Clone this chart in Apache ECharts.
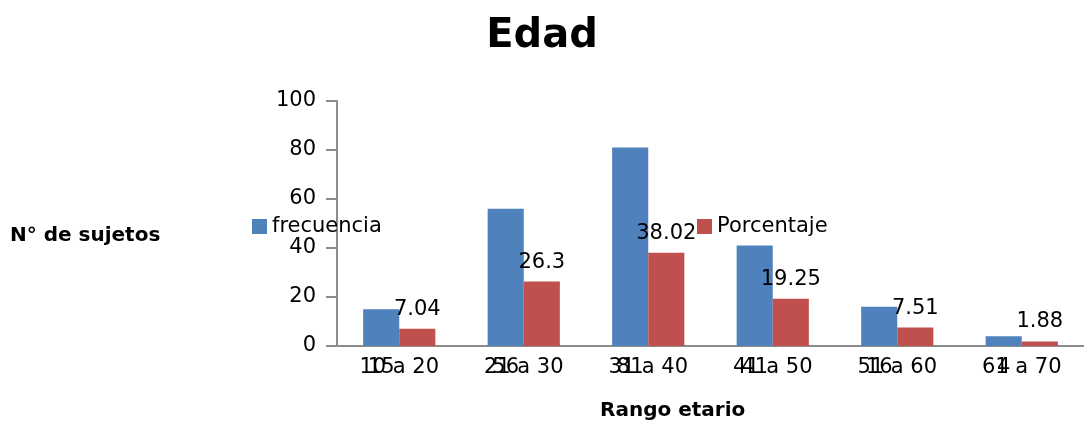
<!DOCTYPE html>
<html>
<head>
<meta charset="utf-8">
<script src="https://cdn.jsdelivr.net/npm/echarts@6/dist/echarts.min.js"></script>
<style>html,body{margin:0;padding:0;background:#fff}#c{width:1084px;height:430px}</style>
</head>
<body>
<div id="c"></div>
<script>
const categories = ["10 a 20", "21 a 30", "31 a 40", "41 a 50", "51 a 60", "61 a 70"];
const frecuencia = [15, 56, 81, 41, 16, 4];
const porcentaje = [7.04, 26.3, 38.02, 19.25, 7.51, 1.88];
const yTicks = [0, 20, 40, 60, 80, 100];

const FONT = "DejaVu Sans";
const chart = echarts.init(document.getElementById('c'), null, {renderer: 'canvas'});
chart.setOption({
  animation: false,
  title: {
    text: "Edad", left: 'center', top: 12,
    textStyle: {fontFamily: FONT, fontSize: 40, fontWeight: 'bold', color: '#000'}
  },
  legend: [
    {data: ["frecuencia"], icon: 'rect', left: 247, top: 211, itemWidth: 15, itemHeight: 15, itemGap: 6,
     textStyle: {fontFamily: FONT, fontSize: 21, color: '#000'}},
    {data: ["Porcentaje"], icon: 'rect', left: 692, top: 211, itemWidth: 15, itemHeight: 15, itemGap: 6,
     textStyle: {fontFamily: FONT, fontSize: 21, color: '#000'}}
  ],
  graphic: [
    {type: 'text', left: 10, top: 226, style: {text: "N° de sujetos", font: "bold 20px 'DejaVu Sans'", fill: '#000'}},
    {type: 'text', left: 600, top: 401, style: {text: "Rango etario", font: "bold 20px 'DejaVu Sans'", fill: '#000'}}
  ],
  grid: {left: 337, right: -13, top: 101, bottom: 84, containLabel: false},
  xAxis: {
    type: 'category', data: categories,
    axisLine: {lineStyle: {color: '#8c8c8c', width: 2}},
    axisTick: {show: false},
    axisLabel: {fontFamily: FONT, fontSize: 21, color: '#000', margin: 11}
  },
  yAxis: {
    type: 'value', min: yTicks[0], max: yTicks[yTicks.length - 1], interval: 20,
    splitLine: {show: false},
    axisLine: {show: true, lineStyle: {color: '#8c8c8c', width: 2}},
    axisTick: {show: true, length: 11, lineStyle: {color: '#8c8c8c', width: 2}},
    axisLabel: {fontFamily: FONT, fontSize: 21, color: '#000', margin: 21}
  },
  series: [
    {name: "frecuencia", type: 'bar', data: frecuencia, barWidth: '29%', barGap: '0%',
     itemStyle: {color: '#4F81BD'},
     label: {show: true, position: 'bottom', distance: 11, fontFamily: FONT, fontSize: 21, color: '#000'}},
    {name: "Porcentaje", type: 'bar', data: porcentaje, barWidth: '29%',
     itemStyle: {color: '#C0504D'},
     label: {show: true, position: 'top', distance: 9, fontFamily: FONT, fontSize: 21, color: '#000'}}
  ]
});
</script>
</body>
</html>
